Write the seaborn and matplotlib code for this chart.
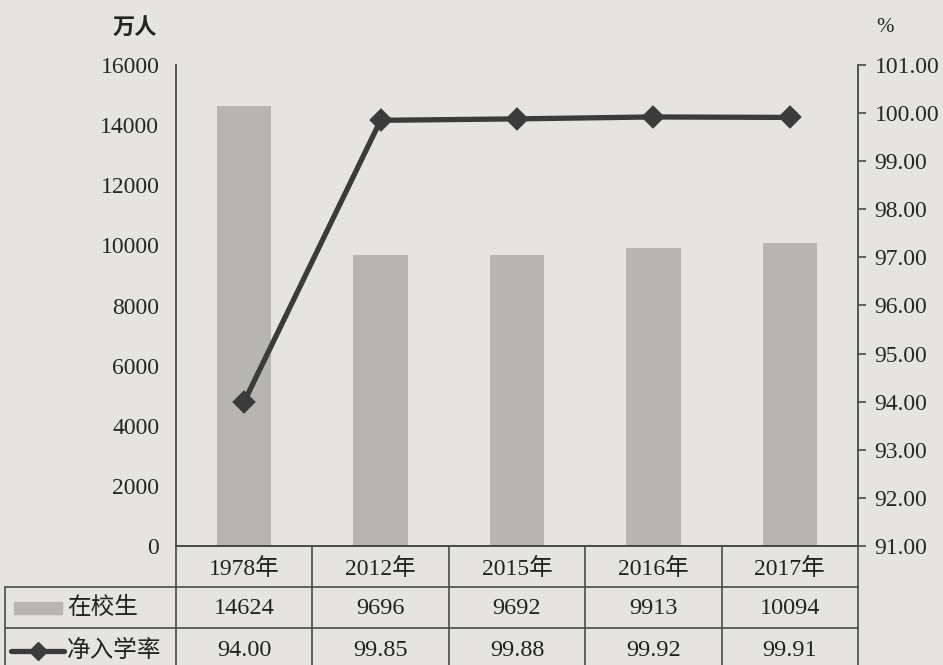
import matplotlib
matplotlib.use("Agg")
import matplotlib.pyplot as plt
import matplotlib.transforms as mtransforms
from matplotlib.patches import Rectangle
from matplotlib.lines import Line2D
import seaborn as sns

# DATA
years = ["1978年", "2012年", "2015年", "2016年", "2017年"]
students = [14624, 9696, 9692, 9913, 10094]
rate = [94.00, 99.85, 99.88, 99.92, 99.91]
student_labels = ["14624", "9696", "9692", "9913", "10094"]
rate_labels = ["94.00", "99.85", "99.88", "99.92", "99.91"]
left_ticks = [0, 2000, 4000, 6000, 8000, 10000, 12000, 14000, 16000]
right_ticks = [91, 92, 93, 94, 95, 96, 97, 98, 99, 100, 101]

BG = "#e6e4e1"
BAR = "#b7b5b2"
LINE = "#3b3b3b"
EDGE = "#4a4a4a"
FONT = ["Liberation Serif", "Noto Sans CJK SC"]

sns.set_style("white")
plt.rcParams["font.family"] = FONT
plt.rcParams["text.color"] = "#222222"

fig = plt.figure(figsize=(9.43, 6.65), dpi=100, facecolor=BG)
ax = fig.add_axes([176 / 943, 119 / 665, 682 / 943, 481 / 665])
ax.set_facecolor(BG)

sns.barplot(x=years, y=students, color=BAR, width=0.40, saturation=1,
            linewidth=0, ax=ax)
ax.set_ylim(0, 16000)
ax.set_xlim(-0.5, 4.5)
ax.set_yticks(left_ticks)
ax.set_yticklabels([str(t) for t in left_ticks], fontsize=17)
ax.tick_params(axis="y", length=0, pad=12)
ax.set_xticks([])
ax.set_xlabel("")

ax2 = ax.twinx()
sns.pointplot(x=years, y=rate, color=LINE, markers="D", linewidth=3.8,
              markersize=9, ax=ax2)
ax2.set_ylim(91, 101)
ax2.set_xlim(-0.5, 4.5)
ax2.set_yticks(right_ticks)
ax2.set_yticklabels([f"{t:.2f}" for t in right_ticks], fontsize=17)
ax2.tick_params(axis="y", direction="out", length=6, width=1.2, color=EDGE, pad=6)
ax2.set_xticks([])
ax2.set_ylabel("")

for a in (ax, ax2):
    a.spines["top"].set_visible(False)
    for s in a.spines.values():
        s.set_color(EDGE)
        s.set_linewidth(1.3)
ax.spines["right"].set_visible(False)
ax2.spines["left"].set_visible(False)

fig.text(135 / 943, 1 - 28 / 665, "万人", fontsize=16, fontweight="bold",
         ha="center", va="center", family=["Noto Sans CJK SC"])
fig.text(885 / 943, 1 - 28 / 665, "%", fontsize=15, ha="center", va="center")

# table below the axes: x in data units, y in axes fraction
tr = mtransforms.blended_transform_factory(ax.transData, ax.transAxes)
px = 1 / 136.4  # one pixel in x data units
left_x = -0.5 - 171 * px
row_y = [0.0, -41 / 481, -82 / 481, -130 / 481]
text_y = [-23 / 481, -62 / 481, -105 / 481]
kw = dict(transform=tr, color=EDGE, lw=1.2, clip_on=False)

ax.add_line(Line2D([left_x, 4.5], [row_y[1], row_y[1]], **kw))
ax.add_line(Line2D([left_x, 4.5], [row_y[2], row_y[2]], **kw))
for i in range(6):
    xv = -0.5 + i
    ax.add_line(Line2D([xv, xv], [row_y[0], row_y[3]], **kw))
ax.add_line(Line2D([left_x, left_x], [row_y[1], row_y[3]], **kw))

for i in range(5):
    ax.text(i, text_y[0], years[i], transform=tr,
            ha="center", va="center", fontsize=17)
    ax.text(i, text_y[1], student_labels[i], transform=tr,
            ha="center", va="center", fontsize=17.5)
    ax.text(i, text_y[2], rate_labels[i], transform=tr,
            ha="center", va="center", fontsize=17.5)

# legend keys in the label column
ax.add_patch(Rectangle((left_x + 9 * px, -68 / 481), 48 * px, 12 / 481,
                       transform=tr, color=BAR, clip_on=False))
ax.text(left_x + 62 * px, text_y[1], "在校生", transform=tr,
        ha="left", va="center", fontsize=17)
ax.add_line(Line2D([left_x + 6 * px, left_x + 59 * px], [text_y[2]] * 2,
                   transform=tr, color=LINE, lw=3.8, clip_on=False))
ax.add_line(Line2D([left_x + 33 * px], [text_y[2]], transform=tr,
                   color=LINE, marker="D", markersize=9, clip_on=False))
ax.text(left_x + 62 * px, text_y[2], "净入学率", transform=tr,
        ha="left", va="center", fontsize=17)

fig.savefig("out.png", dpi=100, facecolor=BG)
